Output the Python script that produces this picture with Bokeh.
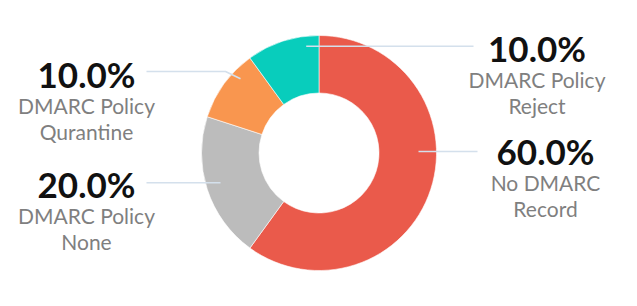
import math
from bokeh.plotting import figure
from bokeh.models import Range1d, ColumnDataSource
from bokeh.core.properties import value
from bokeh.embed import file_html
from bokeh.resources import INLINE

# ---- data ----
categories = ["No DMARC Record", "DMARC Policy None", "DMARC Policy Qurantine", "DMARC Policy Reject"]
label_line1 = ["No DMARC", "DMARC Policy", "DMARC Policy", "DMARC Policy"]
label_line2 = ["Record", "None", "Qurantine", "Reject"]
values = [60, 20, 10, 10]
colors = ["#EA5A4B", "#BCBCBC", "#F9964F", "#08CDBC"]

# ---- layout (pixel space, y measured from top) ----
W, H = 637, 306
CX, CY = 318.5, 152.5
R_OUT, R_IN = 117.5, 60.0
label_pos = [(545, 161.7), (86, 195.0), (86, 85.0), (536.5, 59.3)]
leaders = [
    [(418, 151), (477, 151)],
    [(146, 182.3), (220, 182.3)],
    [(146, 71), (225, 71), (240, 78.3)],
    [(305.7, 45.7), (473, 45.7)],
]
PCT_SHIFT = -11.5
SUB_SHIFT = -8.5

def fy(py):
    return H - py

p = figure(width=W, height=H, x_range=Range1d(0, W), y_range=Range1d(0, H),
           output_backend="svg", toolbar_location=None, min_border=0)
p.axis.visible = False
p.grid.visible = False
p.outline_line_color = None
p.background_fill_color = "white"
p.border_fill_color = "white"

total = sum(values)
starts, ends = [], []
a = math.pi / 2
for v in values:
    starts.append(a)
    a -= v / total * 2 * math.pi
    ends.append(a)

src = ColumnDataSource(dict(start=starts, end=ends, color=colors, name=categories))
p.annular_wedge(x=CX, y=fy(CY), inner_radius=R_IN, outer_radius=R_OUT,
                start_angle="start", end_angle="end", direction="clock",
                fill_color="color", line_color="white", line_width=0.6, source=src)

for pts in leaders:
    p.line([q[0] for q in pts], [fy(q[1]) for q in pts], line_color="#D4E0EC", line_width=1.6)

pct_text = [f"{v / total * 100:.1f}%" for v in values]
xs = [q[0] for q in label_pos]
p.text(x=xs, y=[fy(q[1] + PCT_SHIFT) for q in label_pos], text=pct_text,
       text_font=value("Lato"), text_font_style="bold", text_font_size="35px",
       text_color="#111111", text_align="center", text_baseline="alphabetic")
p.text(x=xs, y=[fy(q[1] + 28.5 + SUB_SHIFT) for q in label_pos], text=label_line1,
       text_font=value("Lato"), text_font_size="21px",
       text_color="#7F7F7F", text_align="center", text_baseline="alphabetic")
p.text(x=xs, y=[fy(q[1] + 54.5 + SUB_SHIFT) for q in label_pos], text=label_line2,
       text_font=value("Lato"), text_font_size="21px",
       text_color="#7F7F7F", text_align="center", text_baseline="alphabetic")

open("out.html", "w").write(file_html(p, INLINE))
